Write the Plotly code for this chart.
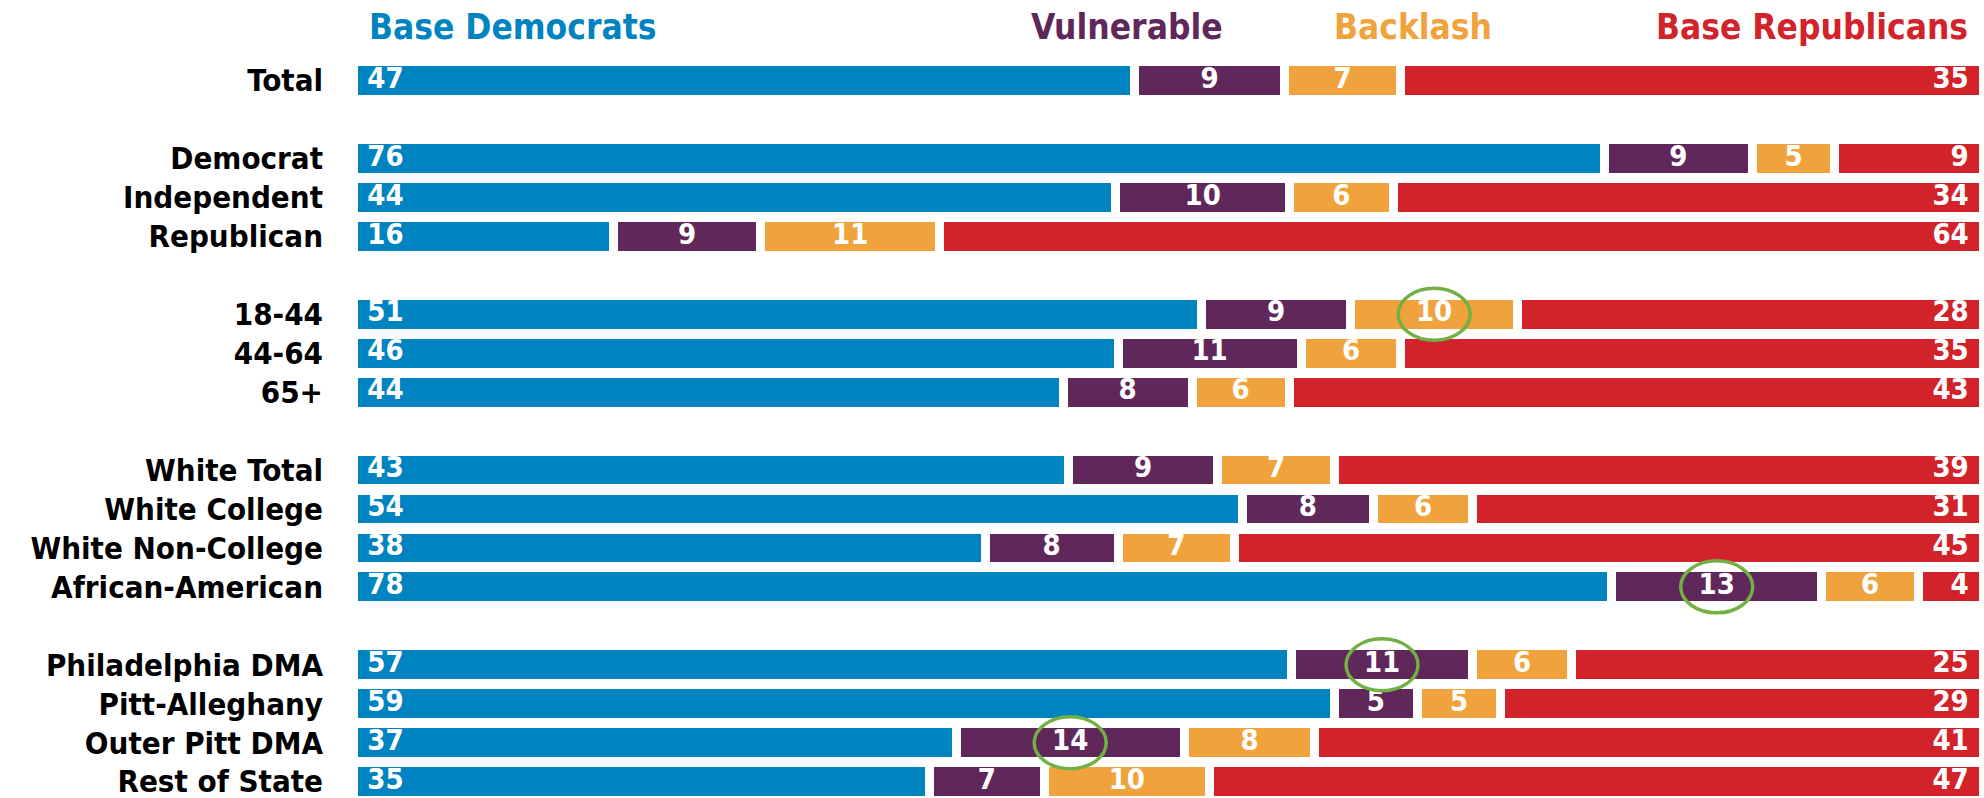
import plotly.graph_objects as go
import numpy as np

# ---- data ----
groups = [
    ["Total"],
    ["Democrat", "Independent", "Republican"],
    ["18-44", "44-64", "65+"],
    ["White Total", "White College", "White Non-College", "African-American"],
    ["Philadelphia DMA", "Pitt-Alleghany", "Outer Pitt DMA", "Rest of State"],
]
categories = [c for g in groups for c in g]
base_dem = [47, 76, 44, 16, 51, 46, 44, 43, 54, 38, 78, 57, 59, 37, 35]
vulnerable = [9, 9, 10, 9, 9, 11, 8, 9, 8, 8, 13, 11, 5, 14, 7]
backlash = [7, 5, 6, 11, 10, 6, 6, 7, 6, 7, 6, 6, 5, 8, 10]
base_rep = [35, 9, 34, 64, 28, 35, 43, 39, 31, 45, 4, 25, 29, 41, 47]
series_names = ["Base Democrats", "Vulnerable", "Backlash", "Base Republicans"]
highlights = [("18-44", "Backlash"), ("African-American", "Vulnerable"),
              ("Philadelphia DMA", "Vulnerable"), ("Outer Pitt DMA", "Vulnerable")]

# ---- layout helpers ----
colors = ["#0083C1", "#60275B", "#F0A33C", "#D2222A"]
FONT = "DejaVu Sans Condensed, DejaVu Sans, sans-serif"
PAD = "\u00a0\u2009"

slots = []
pos = 0
for gi, g in enumerate(groups):
    for c in g:
        slots.append(pos)
        pos += 1
    pos += 1
last = slots[-1]

series = [base_dem, vulnerable, backlash, base_rep]
data = np.array(series, dtype=float)
totals = data.sum(axis=0)
shares = data / totals * 100
starts = np.vstack([np.zeros(len(categories)), np.cumsum(shares, axis=0)[:-1]])
centers = starts + shares / 2

fig = go.Figure()
for name, vals, col in zip(series_names, series, colors):
    fig.add_trace(go.Bar(
        y=slots, x=vals, orientation="h", name=name,
        marker=dict(color=col, line=dict(color="white", width=9)),
        width=0.97, hoverinfo="skip",
    ))

# value labels
lab_font = dict(color="white", size=29, family=FONT, weight="bold")
for k, vals in enumerate(series):
    if k == 0:
        xs, tp, txt = [0] * len(vals), "middle right", [PAD + str(v) for v in vals]
    elif k == len(series) - 1:
        xs, tp, txt = [100] * len(vals), "middle left", [str(v) + PAD for v in vals]
    else:
        xs, tp, txt = centers[k], "middle center", [str(v) for v in vals]
    fig.add_trace(go.Scatter(
        x=xs, y=slots, mode="text", text=txt, textposition=tp,
        textfont=lab_font, cliponaxis=False, hoverinfo="skip", showlegend=False,
    ))

# highlight ellipses
for cat, ser in highlights:
    i = categories.index(cat)
    k = series_names.index(ser)
    fig.add_shape(type="circle", xref="x", yref="y", xsizemode="pixel", ysizemode="pixel",
                  xanchor=centers[k, i], yanchor=slots[i], x0=-36, x1=36, y0=-26, y1=26,
                  line=dict(color="#72B043", width=3.5))

# header legend
head_x = [0.0086, 0.4147, 0.6006, 0.992]
head_anchor = ["left", "left", "left", "right"]
for name, col, hx, ha in zip(series_names, colors, head_x, head_anchor):
    fig.add_annotation(text=name, xref="paper", yref="paper", x=hx, y=1.046,
                       xanchor=ha, yanchor="middle", showarrow=False,
                       font=dict(color=col, size=35, family=FONT, weight="bold"))

fig.update_layout(
    template="none",
    width=1984, height=798, barmode="stack", barnorm="percent",
    margin=dict(l=353, r=1, t=61, b=0, autoexpand=False),
    plot_bgcolor="white", paper_bgcolor="white", showlegend=False,
    xaxis=dict(range=[0, 100], visible=False, fixedrange=True, automargin=False),
    yaxis=dict(range=[last + 0.42, -0.5], tickvals=slots, ticktext=categories,
               automargin=False, showgrid=False, zeroline=False, showline=False, ticks="",
               ticklabelstandoff=29, ticklabeloverflow="allow", fixedrange=True,
               tickfont=dict(color="black", size=31, family=FONT, weight="bold")),
)
fig.write_html("out.html", config={"displayModeBar": False, "staticPlot": True},
               post_script="document.body.style.margin='0';document.body.style.overflow='hidden';")
